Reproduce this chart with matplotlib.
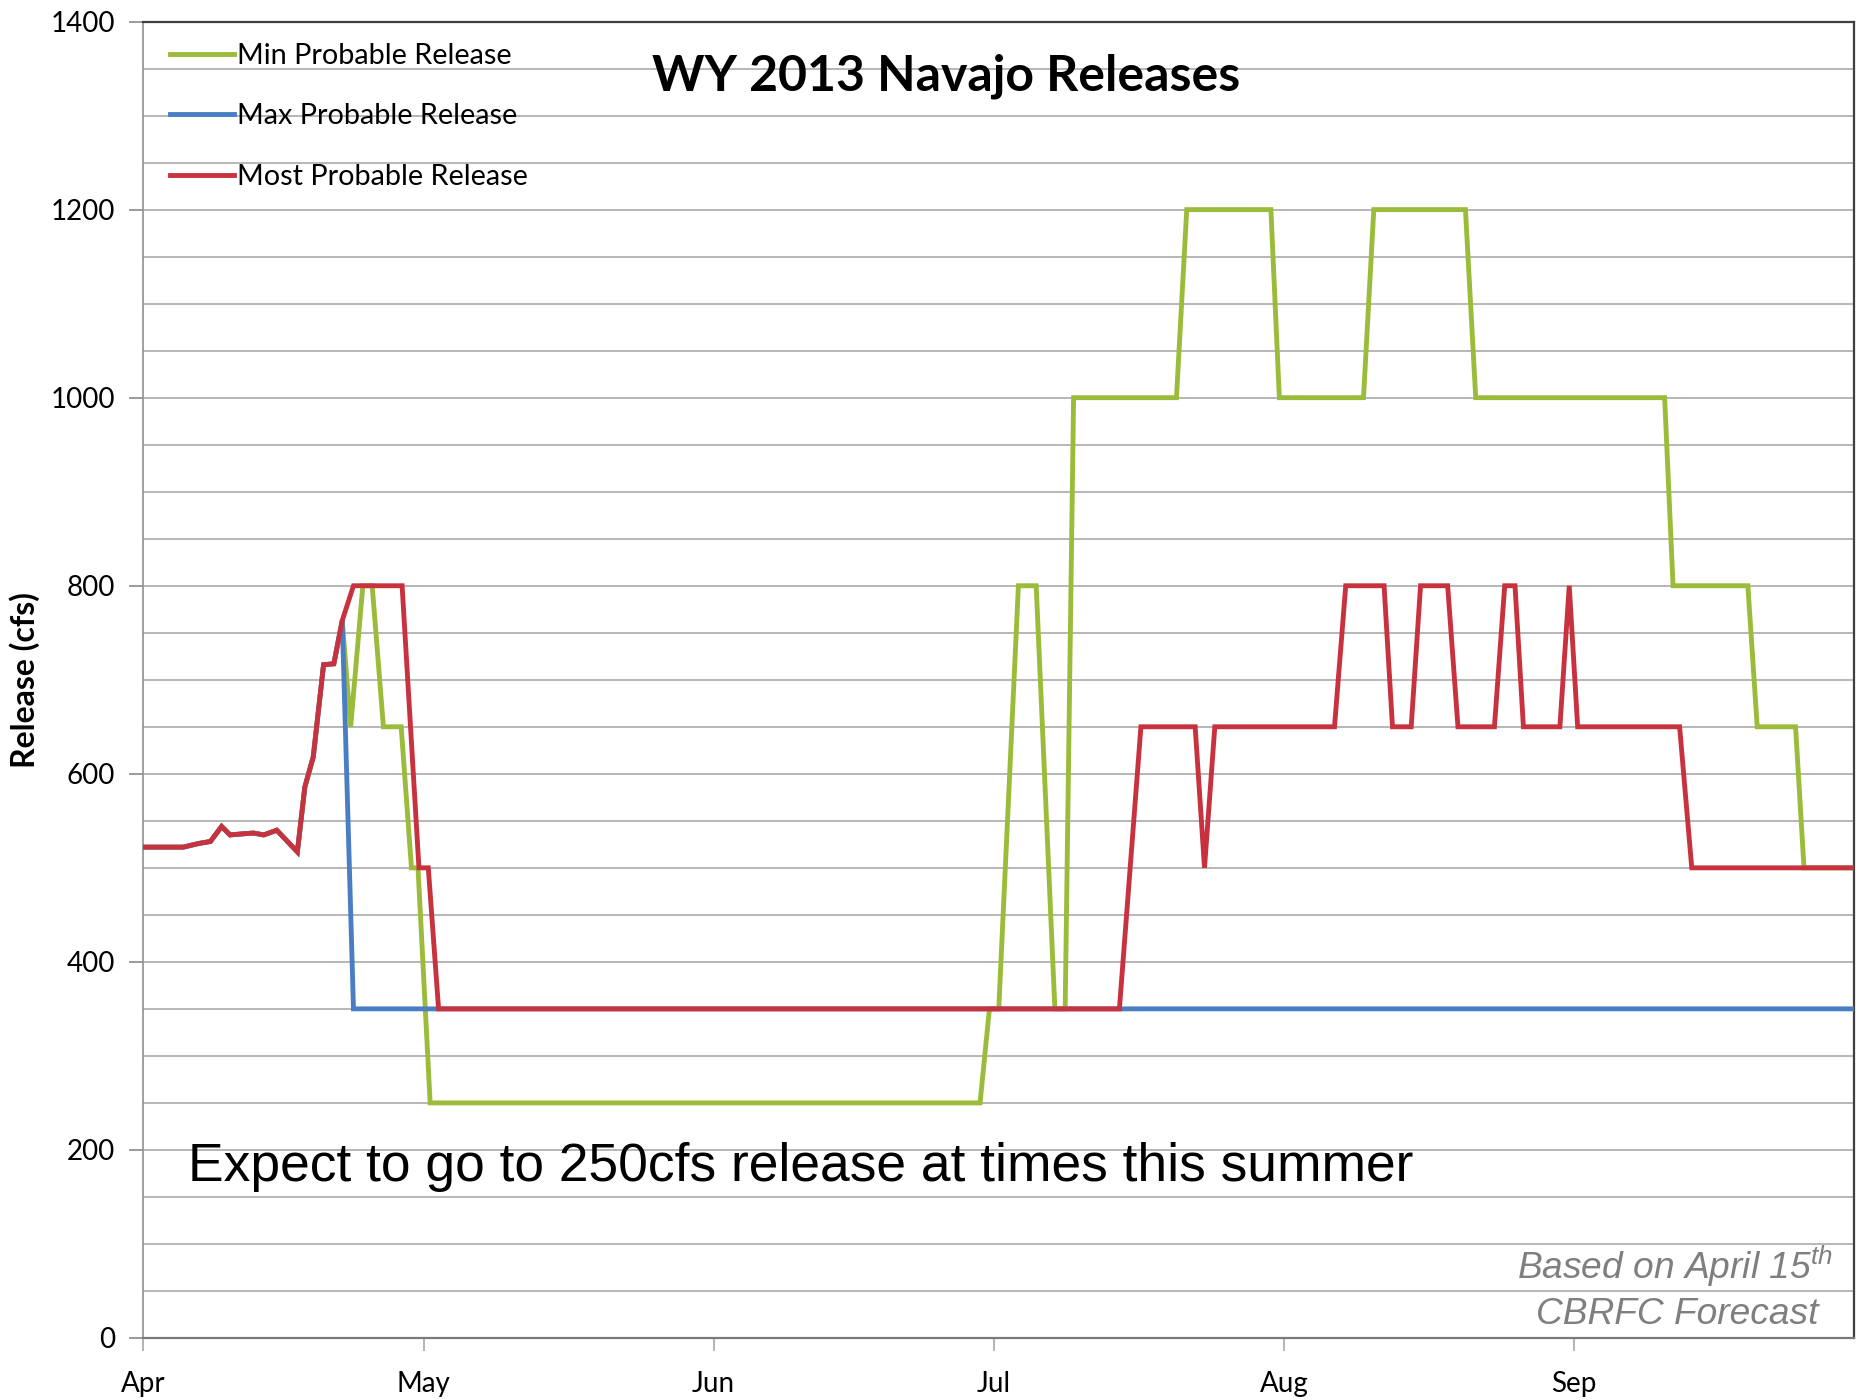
import matplotlib.pyplot as plt
from matplotlib.lines import Line2D

# days since Apr 1 (water year 2013 forecast) and release in cfs
months = ['Apr', 'May', 'Jun', 'Jul', 'Aug', 'Sep']
month_days = [0, 30, 61, 91, 122, 153]

most_days = [0, 4.3, 6, 7.2, 8.4, 9.3, 10.5, 11.8, 12.9, 14.3, 16.5, 17.3, 18.2, 19.3,
             20.4, 21.3, 22.5, 27.7, 29.5, 30.5, 31.6, 104.4, 106.7, 112.5, 113.5, 114.6,
             127.4, 128.6, 132.7, 133.6, 135.6, 136.6, 139.5, 140.6, 144.5, 145.6, 146.7,
             147.6, 151.5, 152.5, 153.4, 164.3, 165.6, 183]
most_cfs = [522, 522, 526, 528, 544, 535, 536, 537, 535, 540, 517, 586, 618, 716,
            717, 763, 800, 800, 500, 500, 350, 350, 650, 650, 500, 650,
            650, 800, 800, 650, 650, 800, 800, 650, 650, 800, 800,
            650, 650, 800, 650, 650, 500, 500]

max_days = [0, 4.3, 6, 7.2, 8.4, 9.3, 10.5, 11.8, 12.9, 14.3, 16.5, 17.3, 18.2, 19.3,
            20.4, 21.3, 22.5, 183]
max_cfs = [522, 522, 526, 528, 544, 535, 536, 537, 535, 540, 517, 586, 618, 716,
           717, 763, 350, 350]

min_days = [0, 4.3, 6, 7.2, 8.4, 9.3, 10.5, 11.8, 12.9, 14.3, 16.5, 17.3, 18.2, 19.3,
            20.4, 21.3, 22.2, 23.5, 24.5, 25.7, 27.6, 28.7, 29.4, 30.7, 89.5, 90.5,
            91.5, 93.6, 95.5, 97.5, 98.6, 99.5, 110.5, 111.6, 120.6, 121.5, 130.5,
            131.6, 141.4, 142.5, 162.7, 163.6, 171.6, 172.6, 176.7, 177.6, 183]
min_cfs = [522, 522, 526, 528, 544, 535, 536, 537, 535, 540, 517, 586, 618, 716,
           717, 763, 650, 800, 800, 650, 650, 500, 500, 250, 250, 350,
           350, 800, 800, 350, 350, 1000, 1000, 1200, 1200, 1000, 1000,
           1200, 1200, 1000, 1000, 800, 800, 650, 650, 500, 500]

green = '#9BBB3B'
blue = '#4A7EC4'
red = '#C8323E'

fig = plt.figure(figsize=(18.7, 14), dpi=100)
ax = fig.add_axes([0.0765, 0.0443, 0.9152, 0.9403])

# gridlines every 50 cfs
for v in range(50, 1400, 50):
    ax.axhline(v, color='#A3A3A3', lw=1.1, zorder=0)

ax.plot(min_days, min_cfs, color=green, lw=3.5, zorder=2, solid_joinstyle='miter')
ax.plot(max_days, max_cfs, color=blue, lw=3.5, zorder=3, solid_joinstyle='miter')
ax.plot(most_days, most_cfs, color=red, lw=3.5, zorder=4, solid_joinstyle='miter')

ax.set_xlim(0, 183)
ax.set_ylim(0, 1400)
ax.set_yticks(range(0, 1401, 200))
ax.set_xticks(month_days)
ax.set_xticklabels(months)

ax.tick_params(axis='y', length=10, width=1.1, color='#808080', pad=10,
               labelsize=20, direction='out')
ax.tick_params(axis='x', length=9, width=1.1, color='#A0A0A0', pad=15,
               labelsize=20, direction='out')
for lab in ax.get_xticklabels() + ax.get_yticklabels():
    lab.set_fontfamily('Lato')

ax.spines['top'].set_color('#3F3F3F')
ax.spines['top'].set_linewidth(1.6)
ax.spines['right'].set_color('#3F3F3F')
ax.spines['right'].set_linewidth(1.6)
ax.spines['left'].set_color('#909090')
ax.spines['left'].set_linewidth(1.2)
ax.spines['bottom'].set_color('#7A7A7A')
ax.spines['bottom'].set_linewidth(1.6)

fig.text(25 / 1870, 1 - 680 / 1400, 'Release (cfs)', rotation=90, ha='center',
         va='center', fontsize=23, fontweight='bold', family='Lato')

ax.text(0.469, 0.9475, 'WY 2013 Navajo Releases', transform=ax.transAxes,
        ha='center', va='baseline', fontsize=36, fontweight='bold', family='Lato')

handles = [Line2D([], [], color=green, lw=3.5),
           Line2D([], [], color=blue, lw=3.5),
           Line2D([], [], color=red, lw=3.5)]
ax.legend(handles, ['Min Probable Release', 'Max Probable Release', 'Most Probable Release'],
          loc='upper left', bbox_to_anchor=(0.016, 0.984), frameon=False,
          prop={'family': 'Lato', 'size': 20.8}, handlelength=2.2, handletextpad=0.1,
          labelspacing=1.2, borderpad=0, borderaxespad=0)

ax.text(4.84, 167, 'Expect to go to 250cfs release at times this summer',
        fontsize=38.4, family='Liberation Sans', color='black', va='baseline', ha='left')

plt.rcParams['mathtext.fontset'] = 'custom'
plt.rcParams['mathtext.it'] = 'Liberation Sans:italic'
plt.rcParams['mathtext.rm'] = 'Liberation Sans:italic'
ax.text(180.7, 63, 'Based on April 15$^{th}$', fontsize=26.7, family='Liberation Sans',
        style='italic', color='#7F7F7F', va='baseline', ha='right')
ax.text(179.1, 15, 'CBRFC Forecast', fontsize=26.7, family='Liberation Sans',
        style='italic', color='#7F7F7F', va='baseline', ha='right')

fig.savefig('out.png', dpi=100)
